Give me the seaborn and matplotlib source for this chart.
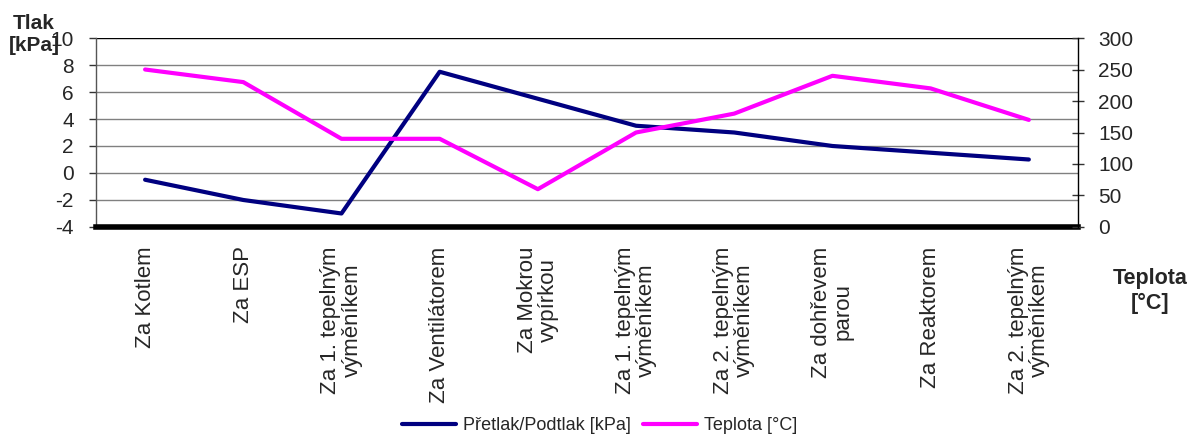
import numpy as np
import pandas as pd
import seaborn as sns
import matplotlib.pyplot as plt
from matplotlib.lines import Line2D

categories = [
    "Za Kotlem",
    "Za ESP",
    "Za 1. tepelným\nvýměníkem",
    "Za Ventilátorem",
    "Za Mokrou\nvypírkou",
    "Za 1. tepelným\nvýměníkem",
    "Za 2. tepelným\nvýměníkem",
    "Za dohřevem\nparou",
    "Za Reaktorem",
    "Za 2. tepelným\nvýměníkem",
]
tlak = [-0.5, -2, -3, 7.5, 5.5, 3.5, 3, 2, 1.5, 1]
teplota = [250, 230, 140, 140, 60, 150, 180, 240, 220, 170]

sns.set_style("white")
plt.rcParams['font.family'] = ['Liberation Sans', 'DejaVu Sans']

df = pd.DataFrame({"pos": np.arange(len(categories)), "tlak": tlak, "teplota": teplota})

fig = plt.figure(figsize=(11.94, 4.36), dpi=100)
ax = fig.add_axes([0.0804, 0.4794, 0.8224, 0.4334])
ax2 = ax.twinx()

blue = "#000080"
pink = "#ff00ff"

sns.lineplot(data=df, x="pos", y="tlak", ax=ax, color=blue, linewidth=3, zorder=5)
sns.lineplot(data=df, x="pos", y="teplota", ax=ax2, color=pink, linewidth=3, zorder=5)

ax.set_xlim(-0.5, len(categories) - 0.5)
ax.set_ylim(-4, 10)
ax2.set_ylim(0, 300)

ax.set_yticks(np.arange(-4, 11, 2))
ax.set_yticklabels([str(v) for v in range(-4, 11, 2)], fontsize=15)
ax2.set_yticks(np.arange(0, 301, 50))
ax2.set_yticklabels([str(v) for v in range(0, 301, 50)], fontsize=15)

ax.set_xticks(np.arange(len(categories)))
ax.set_xticklabels(categories, rotation=90, fontsize=16, ha="center", va="top",
                   multialignment="center", linespacing=1.0)
ax.set_xticks(np.arange(-0.5, len(categories)), minor=True)
ax.tick_params(axis="x", which="major", length=0, pad=14)
ax.tick_params(axis="x", which="minor", length=5, width=3, direction="out", color="black")
ax.tick_params(axis="y", length=5, width=1, direction="out", color="#333333", pad=11)
ax2.tick_params(axis="y", length=9, width=1, direction="inout", color="#333333", pad=10)

ax.set_xlabel("")
ax.set_ylabel("")
ax2.set_ylabel("")

for y in range(-2, 11, 2):
    ax.axhline(y, color="black" if y == 10 else "#808080", linewidth=1, zorder=1)

ax.spines["top"].set_visible(False)
ax2.spines["top"].set_visible(False)
ax.spines["bottom"].set_linewidth(4)
ax.spines["bottom"].set_color("black")
ax2.spines["bottom"].set_visible(False)
ax.spines["left"].set_color("#555555")
ax.spines["left"].set_linewidth(1)
ax2.spines["left"].set_visible(False)
ax2.spines["right"].set_color("black")
ax2.spines["right"].set_linewidth(1)
ax.spines["right"].set_visible(False)

fig.text(0.0285, 0.967, "Tlak\n[kPa]", fontsize=15, fontweight="bold", ha="center", va="top",
         multialignment="center", linespacing=1.2)
fig.text(0.9635, 0.386, "Teplota\n[°C]", fontsize=15.5, fontweight="bold", ha="center", va="top",
         multialignment="center", linespacing=1.25)

handles = [Line2D([], [], color=blue, linewidth=3), Line2D([], [], color=pink, linewidth=3)]
fig.legend(handles, ["Přetlak/Podtlak [kPa]", "Teplota [°C]"], loc="center",
           bbox_to_anchor=(0.502, 0.024), ncol=2, frameon=False, fontsize=13,
           handlelength=3.0, handletextpad=0.4, columnspacing=0.65)

fig.savefig("out.png", dpi=100)
